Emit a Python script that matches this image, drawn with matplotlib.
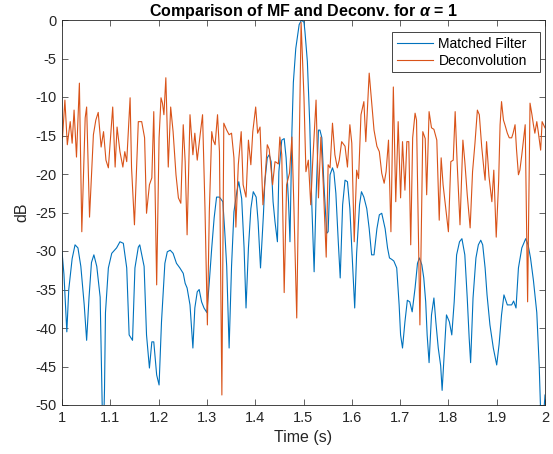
import matplotlib
matplotlib.use("Agg")
import matplotlib.pyplot as plt
import numpy as np

# values (time in s, level in dB)
t_mf = [1.000, 1.004, 1.010, 1.014, 1.021, 1.027, 1.033, 1.039, 1.046, 1.051,
        1.056, 1.061, 1.066, 1.072, 1.079, 1.082, 1.085, 1.088, 1.090, 1.096,
        1.103, 1.113, 1.120, 1.127, 1.134, 1.139, 1.146, 1.151, 1.158, 1.161,
        1.170, 1.175, 1.181, 1.186, 1.190, 1.196, 1.201, 1.206, 1.213, 1.218,
        1.224, 1.230, 1.237, 1.244, 1.251, 1.255, 1.259, 1.265, 1.271, 1.275,
        1.280, 1.284, 1.289, 1.294, 1.300, 1.305, 1.310, 1.315, 1.320, 1.326,
        1.333, 1.337, 1.341, 1.346, 1.351, 1.356, 1.362, 1.366, 1.372, 1.377,
        1.381, 1.386, 1.391, 1.396, 1.402, 1.406, 1.411, 1.417, 1.420, 1.425,
        1.429, 1.433, 1.437, 1.441, 1.446, 1.449, 1.455, 1.460, 1.464, 1.469,
        1.472, 1.476, 1.479, 1.484, 1.491, 1.496, 1.501, 1.503, 1.508, 1.513,
        1.517, 1.522, 1.526, 1.531, 1.534, 1.538, 1.542, 1.548, 1.551, 1.555,
        1.560, 1.563, 1.567, 1.572, 1.576, 1.581, 1.586, 1.591, 1.596, 1.600,
        1.606, 1.610, 1.616, 1.620, 1.625, 1.631, 1.636, 1.641, 1.646, 1.652,
        1.657, 1.662, 1.669, 1.674, 1.678, 1.683, 1.687, 1.693, 1.698, 1.701,
        1.705, 1.710, 1.715, 1.720, 1.725, 1.731, 1.736, 1.740, 1.745, 1.749,
        1.753, 1.756, 1.760, 1.765, 1.770, 1.774, 1.779, 1.784, 1.787, 1.792,
        1.796, 1.802, 1.807, 1.812, 1.817, 1.823, 1.828, 1.834, 1.839, 1.843,
        1.846, 1.851, 1.857, 1.862, 1.867, 1.871, 1.876, 1.880, 1.886, 1.893,
        1.900, 1.905, 1.910, 1.915, 1.922, 1.931, 1.935, 1.940, 1.945, 1.952,
        1.960, 1.965, 1.970, 1.976, 1.983, 1.988, 1.993, 2.000]
db_mf = [-30.1, -33.0, -40.5, -35.0, -31.0, -29.2, -29.6, -32.0, -37.0, -41.6,
         -36.0, -31.5, -30.5, -32.0, -36.0, -46.0, -56.0, -48.0, -38.0, -32.2,
         -30.3, -29.6, -28.8, -29.0, -32.2, -40.9, -41.6, -32.2, -29.5, -29.2,
         -32.0, -40.9, -45.2, -41.8, -41.8, -46.1, -47.4, -39.2, -31.6, -30.1,
         -29.9, -30.3, -31.6, -32.2, -32.9, -34.2, -34.8, -37.0, -42.6, -37.4,
         -35.3, -35.0, -36.6, -37.4, -38.0, -34.0, -29.6, -25.7, -23.0, -23.0,
         -23.6, -27.5, -32.0, -42.6, -32.0, -24.9, -22.3, -21.0, -23.2, -29.6,
         -37.4, -29.6, -24.5, -22.3, -23.0, -26.2, -32.2, -25.3, -21.0, -17.9,
         -17.5, -18.4, -23.6, -26.2, -28.8, -19.7, -15.6, -15.4, -17.9, -23.6,
         -28.8, -14.5, -8.1, -3.7, -0.6, 0.0, -0.3, -1.5, -5.4, -13.6,
         -23.6, -32.7, -23.0, -14.3, -14.3, -15.3, -21.0, -27.7, -27.5, -20.1,
         -19.2, -19.8, -22.5, -28.8, -33.5, -24.0, -20.8, -21.0, -24.5, -29.6,
         -37.4, -30.3, -24.0, -22.3, -23.0, -24.5, -27.1, -30.5, -30.5, -27.1,
         -25.3, -25.1, -27.1, -29.6, -30.9, -31.1, -31.3, -32.2, -37.0, -40.9,
         -42.6, -39.2, -36.4, -36.6, -37.9, -34.8, -31.6, -30.9, -31.8, -33.5,
         -36.6, -40.9, -44.5, -38.3, -36.1, -39.2, -42.6, -44.9, -48.1, -42.6,
         -38.3, -39.2, -40.9, -36.6, -30.5, -28.8, -28.4, -30.5, -36.1, -41.3,
         -44.5, -36.1, -30.9, -29.2, -28.6, -29.2, -32.2, -35.7, -39.6, -42.6,
         -44.8, -42.1, -38.3, -35.7, -37.0, -37.0, -36.5, -37.4, -32.2, -29.6,
         -28.4, -29.2, -30.9, -33.8, -38.0, -44.9, -55.0, -48.7]

t_dc = [1.001, 1.006, 1.011, 1.017, 1.021, 1.025, 1.030, 1.036, 1.041, 1.048,
        1.051, 1.057, 1.065, 1.070, 1.075, 1.081, 1.086, 1.091, 1.096, 1.105,
        1.110, 1.114, 1.120, 1.126, 1.130, 1.134, 1.141, 1.144, 1.150, 1.158,
        1.165, 1.171, 1.175, 1.181, 1.186, 1.190, 1.196, 1.201, 1.205, 1.208,
        1.211, 1.215, 1.220, 1.225, 1.230, 1.236, 1.241, 1.246, 1.251, 1.255,
        1.259, 1.265, 1.271, 1.275, 1.280, 1.286, 1.291, 1.296, 1.301, 1.305,
        1.310, 1.313, 1.317, 1.322, 1.326, 1.331, 1.335, 1.341, 1.346, 1.351,
        1.356, 1.360, 1.365, 1.371, 1.375, 1.381, 1.386, 1.391, 1.395, 1.401,
        1.405, 1.410, 1.416, 1.420, 1.425, 1.429, 1.436, 1.441, 1.444, 1.448,
        1.451, 1.455, 1.460, 1.465, 1.471, 1.476, 1.480, 1.486, 1.495, 1.501,
        1.505, 1.510, 1.515, 1.519, 1.526, 1.531, 1.536, 1.541, 1.547, 1.551,
        1.555, 1.560, 1.565, 1.570, 1.574, 1.579, 1.586, 1.591, 1.596, 1.600,
        1.605, 1.610, 1.614, 1.619, 1.625, 1.629, 1.636, 1.641, 1.646, 1.652,
        1.657, 1.662, 1.667, 1.671, 1.676, 1.681, 1.686, 1.691, 1.696, 1.701,
        1.705, 1.710, 1.714, 1.718, 1.722, 1.726, 1.731, 1.734, 1.741, 1.747,
        1.752, 1.755, 1.760, 1.765, 1.770, 1.776, 1.781, 1.785, 1.789, 1.795,
        1.800, 1.805, 1.810, 1.814, 1.818, 1.824, 1.830, 1.834, 1.839, 1.845,
        1.850, 1.855, 1.860, 1.864, 1.869, 1.874, 1.876, 1.879, 1.884, 1.890,
        1.894, 1.899, 1.904, 1.907, 1.910, 1.914, 1.917, 1.922, 1.926, 1.931,
        1.934, 1.938, 1.941, 1.945, 1.948, 1.952, 1.955, 1.959, 1.964, 1.969,
        1.973, 1.976, 1.979, 1.983, 1.986, 1.991, 1.994, 2.000]
db_dc = [-15.3, -10.4, -16.2, -13.2, -16.0, -11.7, -17.8, -8.2, -27.5, -12.7,
         -11.3, -25.6, -14.9, -13.0, -12.0, -16.5, -14.5, -18.2, -19.2, -11.3,
         -19.1, -13.9, -17.1, -19.1, -17.1, -18.4, -10.1, -19.2, -26.6, -13.2,
         -13.2, -15.3, -25.1, -21.4, -20.5, -11.9, -34.4, -15.3, -10.1, -10.8,
         -12.3, -7.5, -19.1, -11.3, -14.5, -20.1, -23.1, -23.8, -13.6, -18.4,
         -27.9, -12.3, -17.5, -14.7, -18.2, -14.9, -12.3, -24.4, -39.6, -24.9,
         -14.5, -15.6, -16.2, -12.3, -17.1, -48.7, -13.4, -14.3, -14.9, -14.7,
         -17.9, -26.9, -18.8, -14.5, -21.4, -23.0, -15.6, -18.8, -14.5, -11.3,
         -14.7, -13.9, -24.0, -21.0, -16.2, -16.8, -21.4, -18.4, -18.5, -18.7,
         -15.2, -17.5, -35.4, -21.4, -19.9, -15.2, -24.0, -38.7, -0.3, -10.1,
         -19.7, -18.2, -24.0, -18.5, -10.4, -23.1, -15.2, -21.4, -30.8, -18.8,
         -19.2, -13.4, -17.5, -19.2, -18.2, -15.8, -16.4, -19.1, -13.6, -16.0,
         -28.8, -19.5, -20.6, -12.3, -10.6, -15.8, -6.9, -10.6, -14.3, -16.4,
         -17.1, -19.9, -21.2, -19.7, -15.6, -27.5, -8.7, -23.6, -13.2, -23.1,
         -15.8, -22.1, -15.8, -15.8, -29.2, -15.3, -12.1, -13.0, -39.6, -14.5,
         -15.4, -22.7, -11.9, -14.0, -14.2, -15.6, -26.0, -17.9, -21.4, -24.7,
         -27.5, -18.4, -18.2, -11.9, -18.4, -26.6, -15.6, -18.4, -22.7, -27.0,
         -19.7, -16.0, -11.7, -12.3, -16.5, -19.7, -20.8, -15.8, -20.3, -23.6,
         -19.5, -28.2, -21.0, -13.6, -10.6, -13.0, -13.6, -14.7, -15.3, -15.3,
         -14.7, -13.6, -16.8, -20.1, -19.5, -17.5, -15.8, -13.6, -36.6, -10.8,
         -12.3, -13.6, -14.7, -13.2, -14.5, -16.9, -13.2, -14.0]

x_ticks = np.round(np.arange(1.0, 2.01, 0.1), 1)
x_labels = ["1", "1.1", "1.2", "1.3", "1.4", "1.5", "1.6", "1.7", "1.8", "1.9", "2"]
y_ticks = np.arange(-50, 1, 5)

plt.rcParams['font.family'] = ['Liberation Sans', 'DejaVu Sans']
plt.rcParams['mathtext.fontset'] = 'custom'
plt.rcParams['mathtext.it'] = 'Liberation Sans:italic:bold'
plt.rcParams['axes.unicode_minus'] = False

fig = plt.figure(figsize=(5.53, 4.54), dpi=100)
ax = fig.add_axes([62 / 553, 1 - 405 / 454, 483 / 553, 385 / 454])

ax.plot(t_mf, db_mf, color='#0072BD', lw=0.8, label='Matched Filter')
ax.plot(t_dc, db_dc, color='#D95319', lw=0.8, label='Deconvolution')

ax.set_xlim(1, 2)
ax.set_ylim(-50, 0)
ax.set_xticks(x_ticks)
ax.set_xticklabels(x_labels)
ax.set_yticks(y_ticks)
ax.tick_params(direction='in', top=True, right=True, length=4, width=0.5,
               labelsize=10.5, colors='#262626', pad=4)
for s in ax.spines.values():
    s.set_linewidth(0.6)
    s.set_color('#262626')

ax.set_xlabel('Time (s)', fontsize=11.5, color='#262626')
ax.set_ylabel('dB', fontsize=11.5, color='#262626')
ax.set_title(r'Comparison of MF and Deconv. for $\alpha$ = 1', fontsize=11.5,
             fontweight='bold', pad=3)

# legend box stretched to the reference width
leg = ax.legend(loc='upper left', bbox_to_anchor=(0.683, 0.865, 0.306, 0.104),
                mode='expand', borderaxespad=0, fontsize=10, fancybox=False,
                framealpha=1, handlelength=2.6, borderpad=0.35, labelspacing=0.2,
                handletextpad=0.4)
leg.get_frame().set_edgecolor('#262626')
leg.get_frame().set_linewidth(0.6)

fig.savefig('out.png', dpi=100)
